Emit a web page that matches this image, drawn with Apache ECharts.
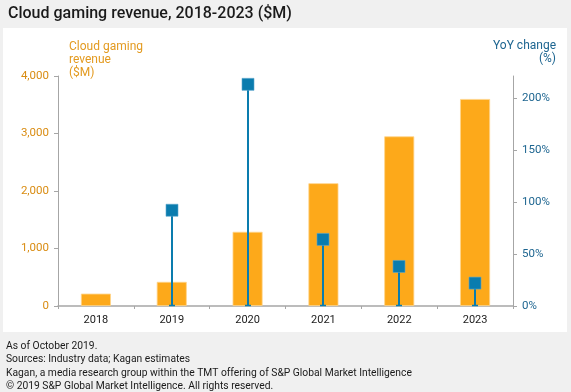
<!DOCTYPE html>
<html><head><meta charset="utf-8">
<script src="https://cdn.jsdelivr.net/npm/echarts@6/dist/echarts.min.js"></script>
<style>html,body{margin:0;padding:0;background:#f0f0f0;}#c{width:571px;height:392px;}</style>
</head><body><div id="c"></div>
<script>
var years = ['2018','2019','2020','2021','2022','2023'];
var revenue = [215, 420, 1290, 2135, 2950, 3600];
var yoy = [null, 92, 213, 64, 38, 22];
var leftTicks = [0, 1000, 2000, 3000, 4000];
var rightTicks = [0, 50, 100, 150, 200];
var footer = ['As of October 2019.', 'Sources: Industry data; Kagan estimates',
  'Kagan, a media research group within the TMT offering of S&P Global Market Intelligence',
  '\u00a9 2019 S&P Global Market Intelligence. All rights reserved.'];

var orange = '#FDA91A', blue = '#0A7CAE', axisGray = '#A6A6A6';
var chart = echarts.init(document.getElementById('c'));
var yoyData = [];
yoy.forEach(function(v, i){ if (v !== null) yoyData.push([i, v]); });

var graphics = [
  {type:'rect', shape:{x:3,y:28,width:564,height:304}, style:{fill:'#ffffff'}, z:-10},
  {type:'text', x:8, y:6, style:{text:'Cloud gaming revenue, 2018-2023 ($M)', font:'500 16px Roboto', fill:'#1a1a1a'}},
  {type:'text', x:69, y:40, style:{text:'Cloud gaming\nrevenue\n($M)', font:'12px Roboto', fill:'#E39A1F', lineHeight:13.3}},
  {type:'text', x:556, y:39, style:{text:'YoY change\n(%)', font:'12px Roboto', fill:'#1D6590', lineHeight:13.3, align:'right'}}
];
footer.forEach(function(t, i){
  graphics.push({type:'text', x:6, y:341 + i*13.5, style:{text:t, font:'10.3px Roboto', fill:'#1a1a1a'}});
});

chart.setOption({
  animation:false,
  backgroundColor:'#f0f0f0',
  graphic: graphics,
  grid:{left:58, right:58, top:76, bottom:86},
  xAxis:{type:'category', data:years,
    axisLine:{lineStyle:{color:axisGray, width:1.5}},
    axisTick:{show:true, length:3, lineStyle:{color:axisGray}},
    axisLabel:{color:'#1a1a1a', fontFamily:'Roboto', fontSize:11, margin:9}},
  yAxis:[
    {type:'value', min:0, max:4000, interval:1000, position:'left',
      axisLine:{show:true, lineStyle:{color:axisGray}},
      axisTick:{show:true, length:4, lineStyle:{color:axisGray}},
      splitLine:{show:false},
      axisLabel:{color:'#D98C12', fontFamily:'Roboto', fontSize:11.5, margin:9,
        formatter:function(v){return v.toLocaleString('en-US');}}},
    {type:'value', min:0, max:221, position:'right',
      axisLine:{show:true, lineStyle:{color:axisGray}},
      axisTick:{show:true, length:4, customValues:rightTicks, lineStyle:{color:axisGray}},
      splitLine:{show:false},
      axisLabel:{color:'#1D6590', fontFamily:'Roboto', fontSize:11.5, margin:9, customValues:rightTicks,
        formatter:function(v){return v + '%';}}}
  ],
  series:[
    {type:'bar', data:revenue, yAxisIndex:0, barWidth:30,
      itemStyle:{color:orange, borderColor:'#FFD48A', borderWidth:0.8}},
    {type:'custom', yAxisIndex:1, data:yoyData, z:5,
      renderItem:function(params, api){
        var top = api.coord([api.value(0), api.value(1)]);
        var base = api.coord([api.value(0), 0]);
        var x = Math.round(top[0]);
        return {type:'group', children:[
          {type:'line', shape:{x1:x, y1:base[1], x2:x, y2:top[1]}, style:{stroke:blue, lineWidth:2}},
          {type:'line', shape:{x1:x-3, y1:base[1]-0.5, x2:x+3, y2:base[1]-0.5}, style:{stroke:blue, lineWidth:1.5}},
          {type:'rect', shape:{x:x-6, y:top[1]-6, width:12, height:12}, style:{fill:blue, stroke:'#5AA6CC', lineWidth:0.6}}
        ]};
      }}
  ]
});
</script></body></html>
